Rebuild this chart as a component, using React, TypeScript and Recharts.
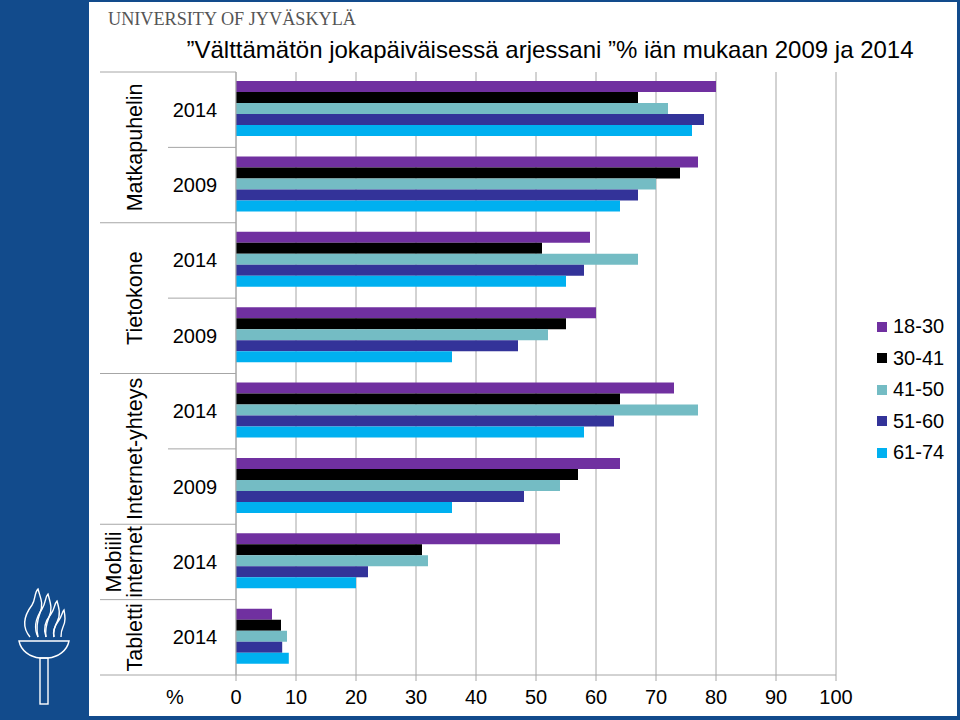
import React from "react";
import { BarChart, Bar, XAxis, YAxis, CartesianGrid } from "recharts";

// rows top to bottom
const YEARS = ["2014", "2009", "2014", "2009", "2014", "2009", "2014", "2014"];
const ROW_GROUP = [0, 0, 1, 1, 2, 2, 3, 4];
const GROUP_LABELS = [["Matkapuhelin"], ["Tietokone"], ["Internet-yhteys"], ["Mobiili", "internet"], ["Tabletti"]];

const AGE_GROUPS = ["18-30", "30-41", "41-50", "51-60", "61-74"];
const AGE_18_30 = [80, 77, 59, 60, 73, 64, 54, 6];
const AGE_30_41 = [67, 74, 51, 55, 64, 57, 31, 7.5];
const AGE_41_50 = [72, 70, 67, 52, 77, 54, 32, 8.5];
const AGE_51_60 = [78, 67, 58, 47, 63, 48, 22, 7.7];
const AGE_61_74 = [76, 64, 55, 36, 58, 36, 20, 8.8];
const SERIES = [AGE_18_30, AGE_30_41, AGE_41_50, AGE_51_60, AGE_61_74];
const COLORS = ["#7030A0", "#000000", "#74BCC4", "#333399", "#00B0F0"];

const X_TICKS = [0, 10, 20, 30, 40, 50, 60, 70, 80, 90, 100];

const data = YEARS.map((year, i) => {
    const row: any = { id: "r" + i, year };
    AGE_GROUPS.forEach((g, s) => {
        row[g] = SERIES[s][i];
    });
    return row;
});

const W = 960;
const H = 720;
const TOP = 72;
const BOTTOM = 675;
const AXIS_X = 236;
const ROW_H = (BOTTOM - TOP) / YEARS.length;
const GRID = "#A6A6A6";
const FONT = "'Liberation Sans', Arial, sans-serif";

const YTick = (props: any) => {
    const { y, index } = props;
    const i = index ?? props.payload?.index ?? 0;
    const g = ROW_GROUP[i];
    const first = ROW_GROUP.indexOf(g);
    const size = ROW_GROUP.filter((v) => v === g).length;
    const rowTop = y - ROW_H / 2;
    const isGroupStart = first === i;
    const groupCenter = rowTop + (size * ROW_H) / 2;
    const lines = GROUP_LABELS[g];
    const isLast = i === YEARS.length - 1;
    return (
        <g>
            <line x1={isGroupStart ? 100 : 168} x2={AXIS_X} y1={rowTop} y2={rowTop} stroke={GRID} />
            {isLast && <line x1={100} x2={AXIS_X} y1={rowTop + ROW_H} y2={rowTop + ROW_H} stroke={GRID} />}
            <text x={195} y={y} textAnchor="middle" dominantBaseline="central" fontSize={20} fill="#000" fontFamily={FONT}>
                {YEARS[i]}
            </text>
            {isGroupStart &&
                lines.map((t, k) => {
                    const lx = 135 - (lines.length - 1 - k) * 21;
                    return (
                        <text
                            key={k}
                            x={lx}
                            y={groupCenter}
                            textAnchor="middle"
                            dominantBaseline="central"
                            fontSize={21.5}
                            fill="#000"
                            fontFamily={FONT}
                            transform={`rotate(-90 ${lx} ${groupCenter})`}
                        >
                            {t}
                        </text>
                    );
                })}
        </g>
    );
};

const Torch = () => (
    <svg width={88} height={130} style={{ position: "absolute", left: 0, top: 585 }}>
        <g fill="none" stroke="#fff" strokeWidth={1.4}>
            <path d="M30,52 C20,40 26,28 32,20 C36,14 34,8 38,4 C40,12 44,18 40,28 C37,36 36,44 38,52" />
            <path d="M38,52 C32,40 38,30 42,24 C46,18 45,12 48,9 C50,17 53,24 49,32 C46,40 45,46 46,52" />
            <path d="M46,52 C42,42 47,34 51,29 C55,24 54,19 57,16 C59,23 61,30 57,37 C54,43 53,48 54,52" />
            <path d="M54,52 C52,45 56,39 59,35 C62,31 62,27 64,25 C65,31 66,36 63,42 C61,46 61,49 61,52" />
            <path d="M19,56 L69,56 C67,66 58,72 48,73 L40,73 C30,72 21,66 19,56 Z" />
            <rect x={40} y={73} width={8} height={46} />
        </g>
    </svg>
);

export default function App() {
    return (
        <div style={{ position: "absolute", left: 0, top: 0, width: W, height: H, background: "#124B8C", overflow: "hidden" }}>
            <div style={{ position: "absolute", left: 89, top: 2, width: 868, height: 714, background: "#fff" }} />
            <Torch />
            <div
                style={{
                    position: "absolute",
                    left: 108,
                    top: 9,
                    fontFamily: "'Liberation Serif', 'Times New Roman', serif",
                    fontSize: 18.2,
                    color: "#555",
                    whiteSpace: "nowrap",
                }}
            >
                UNIVERSITY OF JYVÄSKYLÄ
            </div>
            <div
                style={{
                    position: "absolute",
                    left: 150,
                    width: 800,
                    top: 36,
                    textAlign: "center",
                    fontFamily: FONT,
                    fontSize: 24,
                    color: "#000",
                    whiteSpace: "nowrap",
                }}
            >
                ”Välttämätön jokapäiväisessä arjessani ”% iän mukaan 2009 ja 2014
            </div>
            <div style={{ position: "absolute", left: 166, top: 686, fontFamily: FONT, fontSize: 20, color: "#000" }}>%</div>
            <div style={{ position: "absolute", left: 0, top: 0 }}>
                <BarChart
                    width={W}
                    height={H}
                    data={data}
                    layout="vertical"
                    margin={{ top: TOP, right: W - 836, bottom: 0, left: 0 }}
                    barCategoryGap="12%"
                    barGap={0}
                >
                    <CartesianGrid horizontal={false} stroke={GRID} strokeWidth={1} />
                    <XAxis
                        type="number"
                        domain={[0, 100]}
                        ticks={X_TICKS}
                        interval={0}
                        height={H - BOTTOM}
                        axisLine={{ stroke: GRID }}
                        tickLine={{ stroke: GRID }}
                        tickSize={6}
                        tickMargin={9}
                        tick={{ fontSize: 20, fill: "#000", fontFamily: FONT }}
                    />
                    <YAxis
                        type="category"
                        dataKey="id"
                        width={AXIS_X}
                        interval={0}
                        axisLine={{ stroke: GRID }}
                        tickLine={false}
                        tick={(p: any) => <YTick {...p} />}
                    />
                    {AGE_GROUPS.map((g, s) => (
                        <Bar key={g} dataKey={g} fill={COLORS[s]} isAnimationActive={false} />
                    ))}
                </BarChart>
            </div>
            <div style={{ position: "absolute", left: 877, top: 311, fontFamily: FONT, fontSize: 20, color: "#000" }}>
                {AGE_GROUPS.map((g, s) => (
                    <div key={g} style={{ display: "flex", alignItems: "center", height: 31.5 }}>
                        <span style={{ width: 10, height: 10, background: COLORS[s], marginRight: 6, display: "inline-block" }} />
                        <span>{g}</span>
                    </div>
                ))}
            </div>
        </div>
    );
}
